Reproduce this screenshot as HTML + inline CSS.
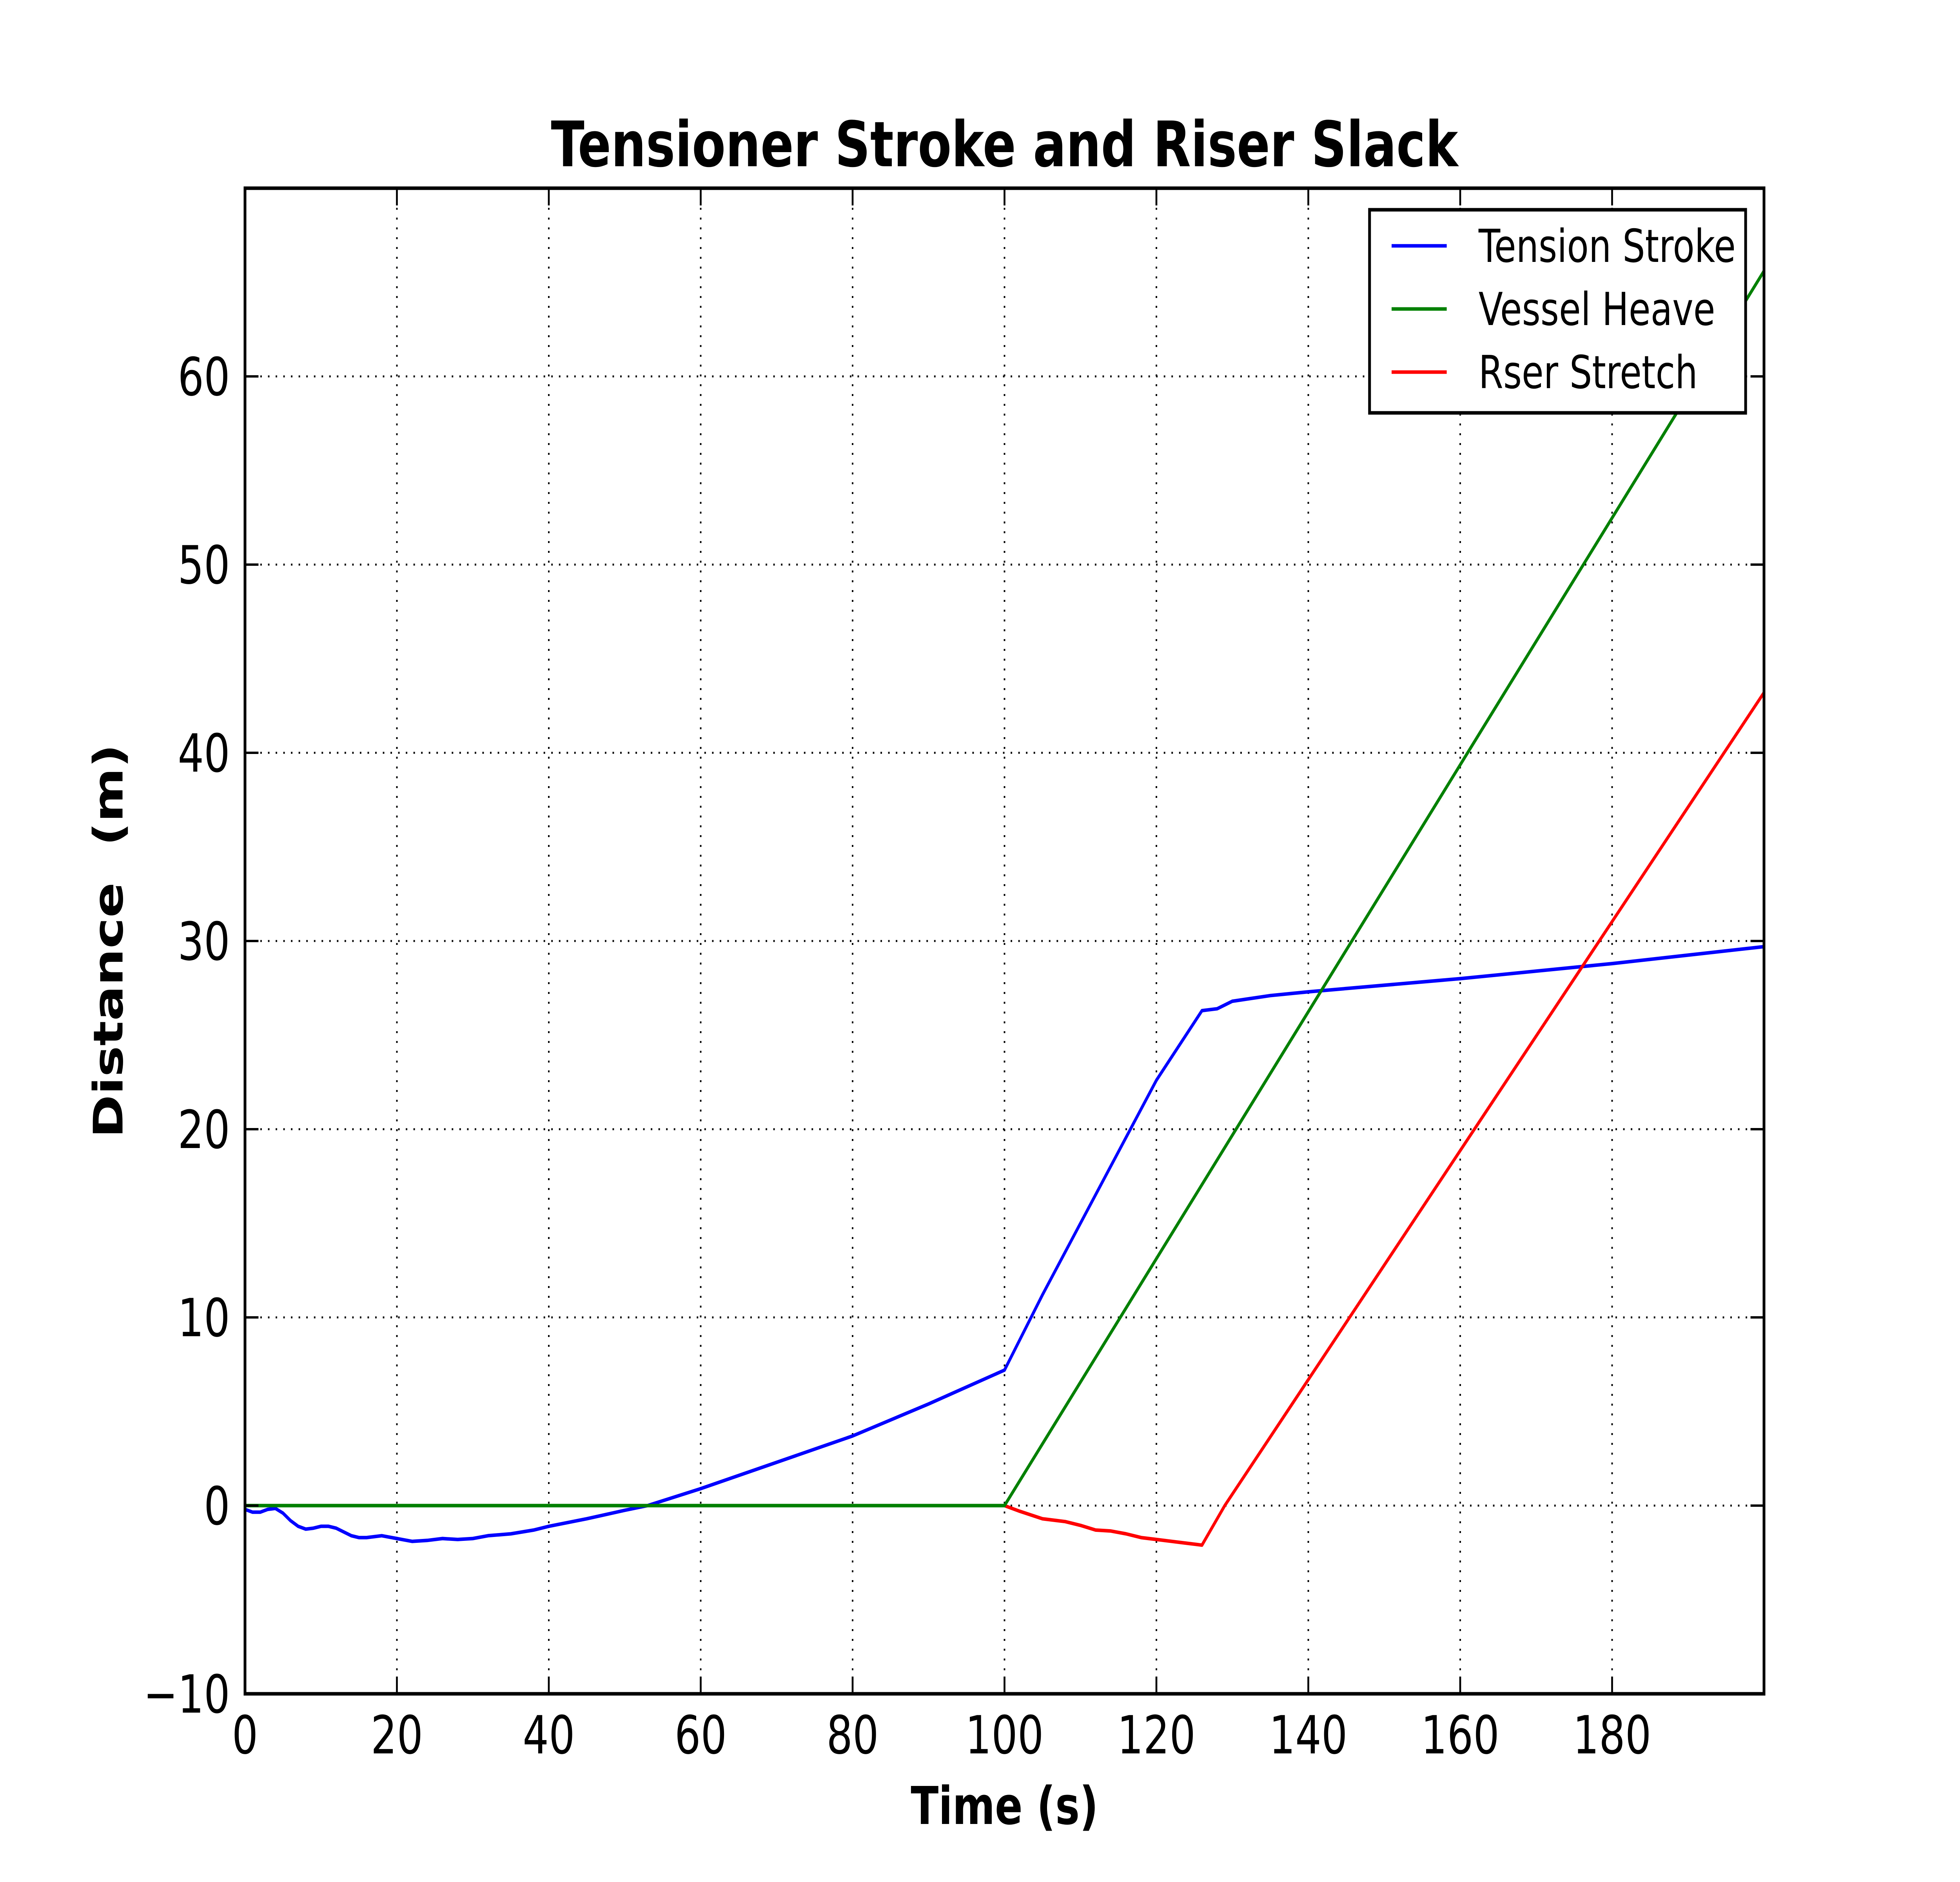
<!DOCTYPE html>
<html><head><meta charset="utf-8"><style>html,body{margin:0;padding:0;background:#fff;width:100%;height:100%;overflow:hidden}svg{display:block;width:100vw;height:100vh}</style></head>
<body>
<svg id="chart" viewBox="0 0 6400 4800" preserveAspectRatio="none" xmlns="http://www.w3.org/2000/svg" font-family="'DejaVu Sans','Liberation Sans',sans-serif">
<rect width="6400" height="4800" fill="#fff"/>
<g id="grid"></g>
<g id="series"></g>
<rect x="800" y="480" width="4960" height="3840" fill="none" stroke="#000" stroke-width="9"/>
<g id="ticks"></g>
<text x="3280" y="424" text-anchor="middle" font-size="160" font-weight="bold">Tensioner Stroke and Riser Slack</text>
<text x="3280" y="4652" text-anchor="middle" font-size="133" font-weight="bold">Time (s)</text>
<text transform="translate(400,2400) rotate(-90)" text-anchor="middle" font-size="133" font-weight="bold" xml:space="preserve">Distance  (m)</text>
<g>
<rect x="4472" y="535" width="1228" height="518" fill="#fff" stroke="#000" stroke-width="9"/>
<line x1="4544" y1="627" x2="4724" y2="627" stroke="#0000ff" stroke-width="9"/>
<text x="4828" y="668" font-size="116">Tension Stroke</text>
<line x1="4544" y1="788" x2="4724" y2="788" stroke="#008000" stroke-width="9"/>
<text x="4828" y="829" font-size="116">Vessel Heave</text>
<line x1="4544" y1="949" x2="4724" y2="949" stroke="#ff0000" stroke-width="9"/>
<text x="4828" y="990" font-size="116">Rser Stretch</text>
</g>
</svg>
<script>
const xTicks=[0,20,40,60,80,100,120,140,160,180];
const yTicks=[-10,0,10,20,30,40,50,60];
const yTickLabels=["\u221210","0","10","20","30","40","50","60"];
const tensionT=[0,1,2,3,4,5,6,7,8,9,10,11,12,13,14,15,16,18,20,22,24,26,28,30,32,35,38,40,45,50,53,60,70,80,90,100,105,110,115,120,126,127,128,130,135,140,160,180,200];
const tensionV=[-0.2,-0.35,-0.35,-0.2,-0.15,-0.4,-0.8,-1.1,-1.25,-1.2,-1.1,-1.1,-1.2,-1.4,-1.6,-1.7,-1.7,-1.6,-1.75,-1.9,-1.85,-1.75,-1.8,-1.75,-1.6,-1.5,-1.3,-1.1,-0.7,-0.25,0,0.9,2.3,3.7,5.4,7.2,11.2,15.0,18.8,22.6,26.3,26.35,26.4,26.8,27.1,27.3,28.0,28.8,29.7];
const heaveT=[0,100,200];
const heaveV=[0,0,65.6];
const stretchT=[0,100,102,105,108,110,112,114,116,118,120,122,124,126,129,200];
const stretchV=[0,0,-0.3,-0.7,-0.85,-1.05,-1.3,-1.35,-1.5,-1.7,-1.8,-1.9,-2.0,-2.1,0,43.2];
const X0=800,X1=5760,Y0=4320,Y1=480;
const sx=t=>X0+(t-0)/(200-0)*(X1-X0);
const sy=v=>Y0-(v+10)/(80)*(Y0-Y1);
const NS="http://www.w3.org/2000/svg";
const grid=document.getElementById('grid'),ticks=document.getElementById('ticks'),series=document.getElementById('series');
function mk(tag,attrs,parent){const e=document.createElementNS(NS,tag);for(const k in attrs)e.setAttribute(k,attrs[k]);parent.appendChild(e);return e;}
xTicks.forEach(t=>{
  const x=sx(t);
  const g=mk('line',{x1:x,y1:Y1,x2:x,y2:Y0,stroke:'#000','stroke-width':5,'stroke-dasharray':'5 20'},grid);
  
  
  const a=mk('line',{x1:x,y1:Y0,x2:x,y2:Y0-44,stroke:'#000','stroke-width':6},ticks);
  
  
  const b=mk('line',{x1:x,y1:Y1,x2:x,y2:Y1+44,stroke:'#000','stroke-width':6},ticks);
  
  
  const l=mk('text',{x:x,y:Y0+152,'text-anchor':'middle','font-size':134},ticks);
  l.textContent=String(t);
  
  
});
yTicks.forEach((v,i)=>{
  const y=sy(v);
  const g=mk('line',{x1:X0,y1:y,x2:X1,y2:y,stroke:'#000','stroke-width':5,'stroke-dasharray':'5 20'},grid);
  
  
  const a=mk('line',{x1:X0,y1:y,x2:X0+44,y2:y,stroke:'#000','stroke-width':6},ticks);
  
  
  const b=mk('line',{x1:X1,y1:y,x2:X1-44,y2:y,stroke:'#000','stroke-width':6},ticks);
  
  
  const l=mk('text',{x:X0-49,y:y+48,'text-anchor':'end','font-size':134},ticks);
  l.textContent=yTickLabels[i];
  
  
});
function line(ts,vs,color,name){
  const d=ts.map((t,i)=>(i?'L':'M')+sx(t).toFixed(1)+' '+sy(vs[i]).toFixed(1)).join(' ');
  const p=mk('path',{d:d,fill:'none',stroke:color,'stroke-width':9,'stroke-linejoin':'round'},series);
  
  
}
line(tensionT,tensionV,'#0000ff','tension-stroke-line');
line(stretchT,stretchV,'#ff0000','riser-stretch-line');
line(heaveT,heaveV,'#008000','vessel-heave-line');
</script>
</body></html>
